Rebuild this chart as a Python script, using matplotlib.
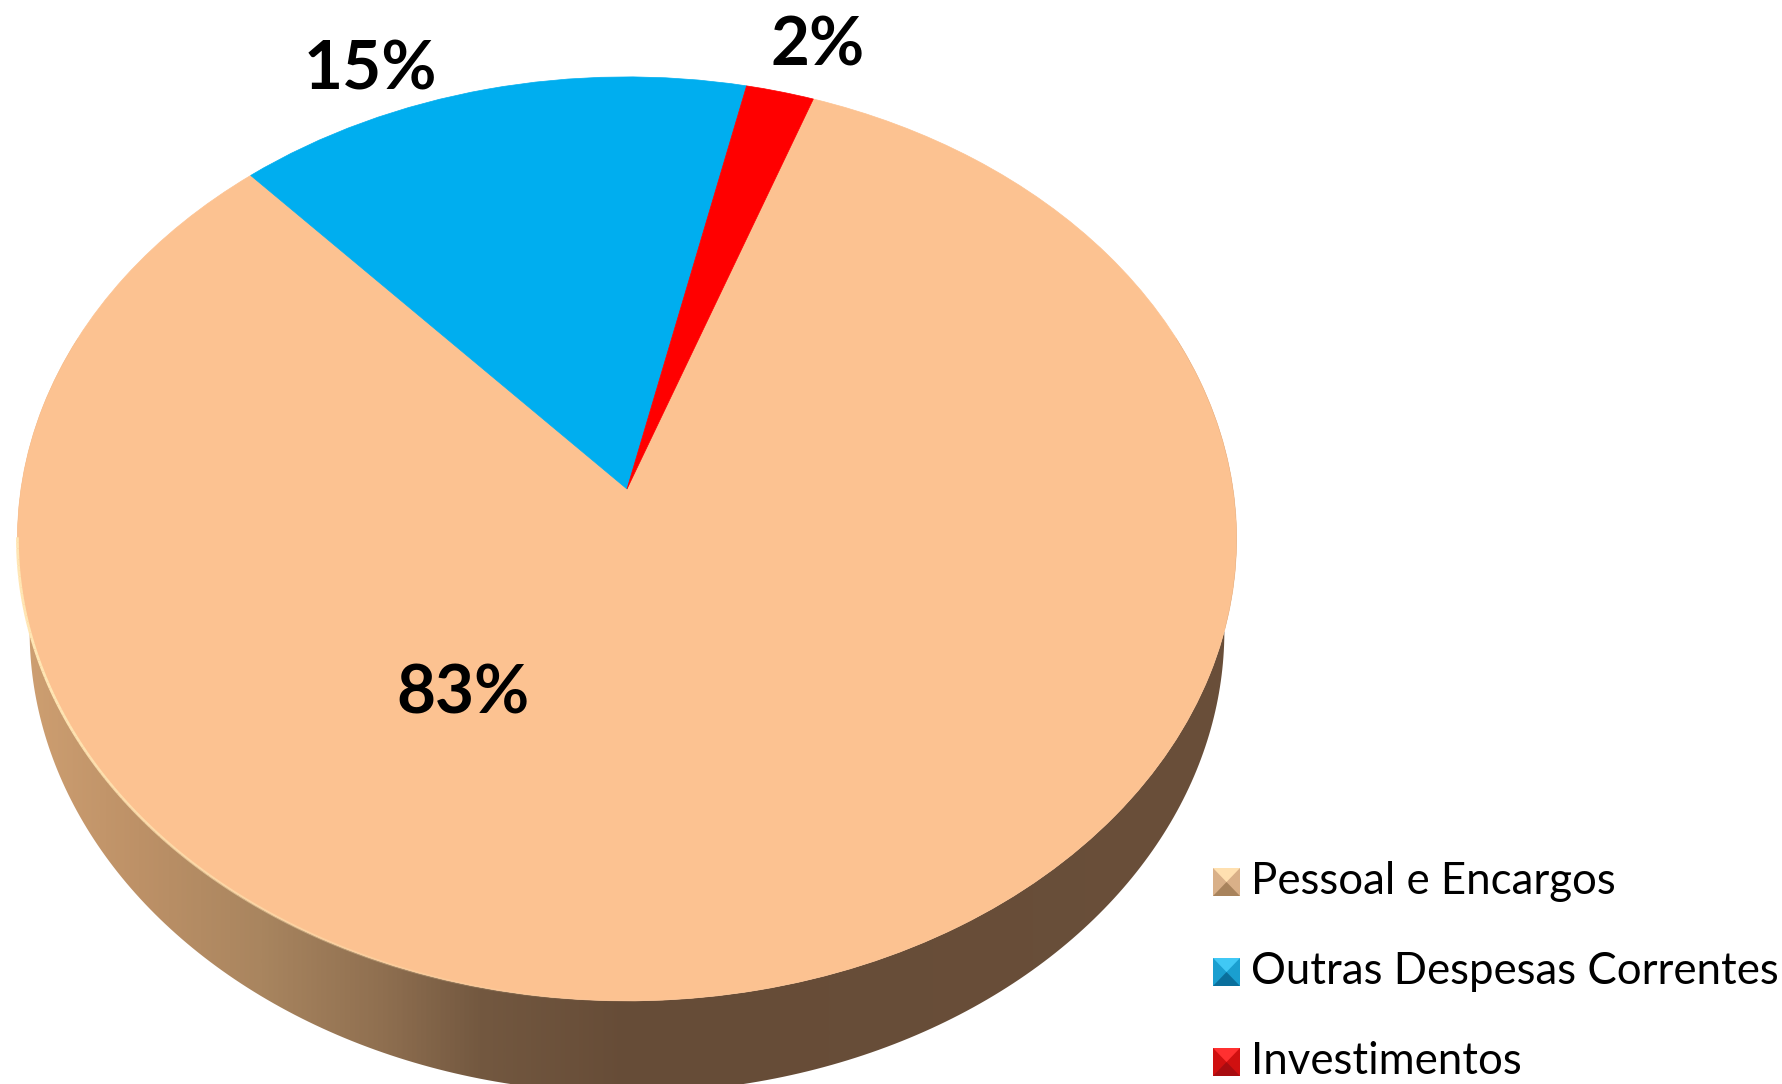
import numpy as np
import matplotlib
matplotlib.use('Agg')
import matplotlib.pyplot as plt
from matplotlib.collections import LineCollection
from matplotlib.colors import LinearSegmentedColormap
from matplotlib.patches import PathPatch, Polygon
from matplotlib.path import Path

# Data
categories = ['Pessoal e Encargos', 'Outras Despesas Correntes', 'Investimentos']
values = [82.8, 15.2, 2.0]
colors = ['#fcc291', '#00aeef', '#ff0000']
label_pos = [(463, 694), (370, 71), (818, 47)]
legend_y = [882, 972, 1062]
legend_side = ['#d9b088', '#1a9fd0', '#d01010']
legend_dark = ['#a8835c', '#0a6f9c', '#a80c10']
legend_light = ['#ffe0b0', '#40c8f5', '#ff3030']

W, H = 1783, 1084
FONT = 'Lato'

# Pie is seen in perspective, so the apex is above the middle of the ellipse
CX, CY = 627, 489
A, B, K = 606, 456.6, -0.108
DEPTH = 92


def tilt(xy, shrink=1.0, drop=0):
    x, y = xy[:, 0], xy[:, 1]
    d = 1 - K * y
    return np.column_stack([CX + shrink * A * x / d, CY + drop - B * y / d])


def ring(t0, t1, n=300):
    t = np.radians(np.linspace(t0, t1, n))
    return np.column_stack([np.cos(t), np.sin(t)])


fig = plt.figure(figsize=(W / 100, H / 100), dpi=100)
ax = fig.add_axes([0, 0, 1, 1])

wedges, _ = ax.pie(values, colors=colors, startangle=70.2, counterclock=False)

# Side wall, darker to the right
side_cmap = LinearSegmentedColormap.from_list('side', [
    (0.0, '#cfa072'), (0.1, '#bd9167'), (0.2, '#a9855f'), (0.3, '#8f6f50'),
    (0.38, '#735840'), (0.5, '#664c37'), (1.0, '#6a4f3a')])
grad = np.linspace(0, 1, 512).reshape(1, -1)
im = ax.imshow(grad, cmap=side_cmap, extent=[CX - 612, CX + 612, H, 0],
               aspect='auto', zorder=1)
outline = np.vstack([tilt(ring(160, 380), shrink=0.98, drop=DEPTH),
                     tilt(ring(380, 160))])
clip = Polygon(outline, closed=True, facecolor='none', edgecolor='none')
ax.add_patch(clip)
im.set_clip_path(clip)

# Top of the pie: the wedges from pie(), pushed through the perspective
for w, c in zip(wedges, colors):
    p = w.get_path()
    ax.add_patch(PathPatch(Path(tilt(p.vertices), p.codes), facecolor=c,
                           edgecolor=c, lw=0.5, zorder=2))
    w.remove()

# Light rim along the front left edge, fading out towards the front
rim = tilt(ring(186, 268, n=120))
segs = np.stack([rim[:-1], rim[1:]], axis=1)
fade = np.clip(np.linspace(1.3, 0, len(segs)), 0, 1)
rim_colors = np.tile(matplotlib.colors.to_rgba('#ffe6b4'), (len(segs), 1))
rim_colors[:, 3] = fade
ax.add_collection(LineCollection(segs, colors=rim_colors, linewidths=2, zorder=3))

# Labels
for v, (x, y) in zip(values, label_pos):
    ax.text(x, y, f'{v:.0f}%', fontsize=48.5, fontweight='bold', family=FONT,
            ha='center', va='center', color='black', zorder=5)

# Legend with small bevelled keys
for name, y, side, dark, light in zip(categories, legend_y, legend_side, legend_dark, legend_light):
    x0, x1, y0, y1 = 1213, 1240, y - 14, y + 14
    xm, ym = (x0 + x1) / 2, (y0 + y1) / 2
    ax.add_patch(Polygon([(x0, y0), (x1, y0), (x1, y1), (x0, y1)], facecolor=side, zorder=4))
    ax.add_patch(Polygon([(x0, y0), (x1, y0), (xm, ym)], facecolor=light, zorder=4))
    ax.add_patch(Polygon([(x0, y1), (x1, y1), (xm, ym)], facecolor=dark, zorder=4))
    ax.text(1251, y, name, fontsize=31.5, family=FONT, ha='left', va='center',
            color='black', zorder=5)

ax.set_aspect('auto')
ax.set_xlim(0, W)
ax.set_ylim(H, 0)
ax.axis('off')

fig.savefig('out.png', dpi=100, facecolor='white')
